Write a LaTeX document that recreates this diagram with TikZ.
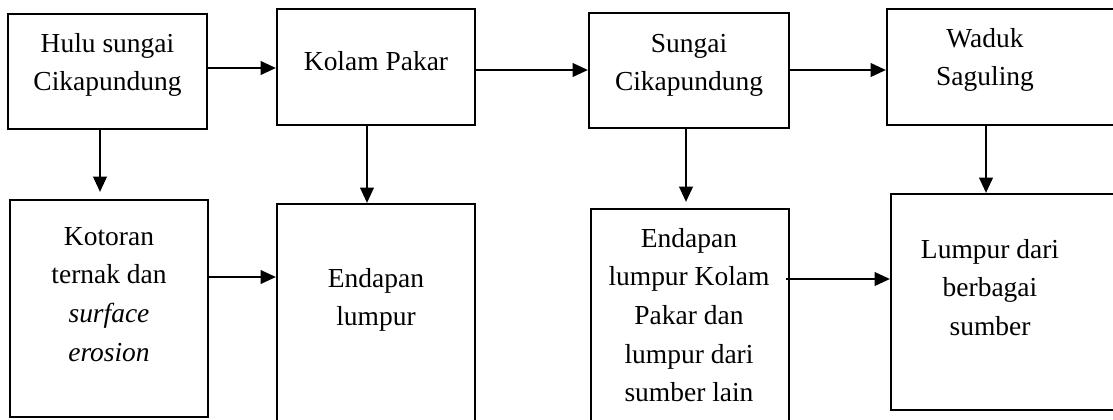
\documentclass[tikz,border=0pt]{standalone}
\usepackage{fontspec}
\setmainfont{Liberation Serif}
\usetikzlibrary{arrows.meta,calc}
\tikzset{
  box/.style={draw=black, line width=1.5pt, rectangle, inner sep=0pt, anchor=center},
  lbl/.style={anchor=base, inner sep=0pt, font=\fontsize{20.6pt}{29pt}\selectfont},
  arr/.style={line width=2pt, -{Triangle[length=11.5pt,width=10pt]}}
}
\newcommand{\mk}[1]{\begin{tabular}[t]{@{}c@{}}#1\end{tabular}}
\begin{document}
\begin{tikzpicture}[x=0.75pt,y=-0.75pt]
\useasboundingbox (0,0) rectangle (1113,419);
\clip (0,0) rectangle (1113,419);
% top row boxes
\node[box, minimum width=149.25pt, minimum height=86.25pt] (A) at (107.5,71.5) {};
\node[box, minimum width=148.5pt, minimum height=87pt] (B) at (376,67) {};
\node[box, minimum width=150pt, minimum height=86.25pt] (C) at (689,70.5) {};
\node[box, minimum width=178.5pt, minimum height=87pt] (D) at (1006,67) {};
% bottom row boxes
\node[box, minimum width=148.5pt, minimum height=162.75pt] (E) at (109,308.5) {};
\node[box, minimum width=148.5pt, minimum height=169.5pt] (F) at (376,317) {};
\node[box, minimum width=148.5pt, minimum height=165.75pt] (G) at (690,319.5) {};
\node[box, minimum width=175.5pt, minimum height=162pt] (H) at (1008,302) {};
% labels
\node[lbl] (tA) at (107.5,52) {\mk{Hulu sungai\\Cikapundung}};
\node[lbl] (tB) at (376,70) {\mk{Kolam Pakar}};
\node[lbl] (tC) at (689,52) {\mk{Sungai\\Cikapundung}};
\node[lbl] (tD) at (985,47) {\mk{Waduk\\Saguling}};
\node[lbl] (tE) at (109,245) {\mk{Kotoran\\ternak dan\\\textit{surface}\\\textit{erosion}}};
\node[lbl] (tF) at (376,287) {\mk{Endapan\\lumpur}};
\node[lbl] (tG) at (689,247) {\mk{Endapan\\lumpur Kolam\\Pakar dan\\lumpur dari\\sumber lain}};
\node[lbl] (tH) at (990,258) {\mk{Lumpur dari\\berbagai\\sumber}};
% horizontal arrows
\draw[arr] (A.east |- 0,68) -- (B.west |- 0,68);
\draw[arr] (B.east |- 0,70) -- (C.west |- 0,70);
\draw[arr] (C.east |- 0,70) -- (D.west |- 0,70);
\draw[arr] (E.east |- 0,277) -- (F.west |- 0,277);
\draw[arr] ($(G.east |- 0,279)+(-4,0)$) -- (H.west |- 0,279);
% vertical arrows
\draw[arr, shorten >=5.25pt] (A.south -| 100,0) -- (E.north -| 100,0);
\draw[arr] (B.south -| 367,0) -- (F.north -| 367,0);
\draw[arr, shorten >=4.5pt] (C.south -| 686,0) -- (G.north -| 686,0);
\draw[arr] (D.south -| 986,0) -- (H.north -| 986,0);
\end{tikzpicture}
\end{document}
